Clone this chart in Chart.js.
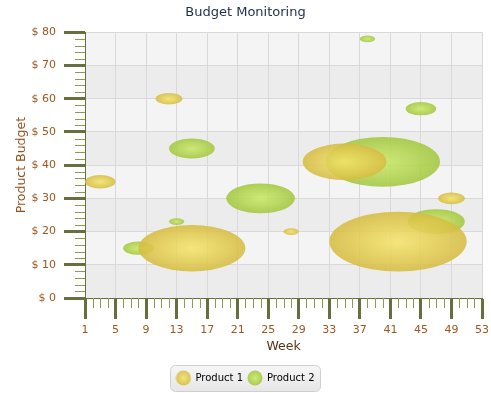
<!DOCTYPE html>
<html>
<head>
<meta charset="utf-8">
<title>Budget Monitoring</title>
<script src="https://cdn.jsdelivr.net/npm/chart.js@4.4.1/dist/chart.umd.min.js"></script>
<style>
  html, body { margin: 0; padding: 0; background: #fff; }
  #wrap { width: 491px; height: 393px; position: relative; }
</style>
</head>
<body>
<div id="wrap"><canvas id="budgetChart"></canvas></div>
<script>
/* ---- data ---- */
const weekTicks   = [1, 5, 9, 13, 17, 21, 25, 29, 33, 37, 41, 45, 49, 53];
const budgetTicks = [0, 10, 20, 30, 40, 50, 60, 70, 80];

// bubble size is a diameter in axis units
const p1Week   = [3, 12, 15, 28, 35, 42, 49];
const p1Budget = [35, 60, 15, 20, 41, 17, 30];
const p1Size   = [4, 3.5, 14, 2, 11, 18, 3.5];

const p2Week   = [8, 13, 15, 24, 38, 40, 45, 47];
const p2Budget = [15, 23, 45, 30, 78, 41, 57, 23];
const p2Size   = [4, 2, 6, 9, 2, 15, 4, 7.5];

/* ---- styling ---- */
Chart.defaults.font.family = "'DejaVu Sans', Verdana, sans-serif";
Chart.defaults.animation = false;

const AXIS_DARK  = '#66703f';
const AXIS_MINOR = '#8c9a52';
const LABEL_CLR  = '#a0561c';
const GRID_CLR   = '#d9d9d9';

const SHADES = {
  p1: { inner: 'rgba(244,228,106,0.88)', outer: 'rgba(214,188,66,0.88)' },
  p2: { inner: 'rgba(200,232,98,0.85)', outer: 'rgba(160,198,58,0.85)' },
};

function toPoints(xs, ys, sizes){
  return xs.map((x, i) => ({ x, y: ys[i], r: sizes[i] }));
}

function fillEllipse(ctx, cx, cy, rx, ry, shade){
  ctx.save();
  ctx.translate(cx, cy);
  ctx.scale(rx, ry);
  const g = ctx.createRadialGradient(0, 0, 0, 0, 0, 1);
  g.addColorStop(0, shade.inner);
  g.addColorStop(1, shade.outer);
  ctx.beginPath();
  ctx.arc(0, 0, 1, 0, Math.PI * 2);
  ctx.fillStyle = g;
  ctx.fill();
  ctx.restore();
}

function legendDot(shade){
  const c = document.createElement('canvas');
  c.width = 16; c.height = 16;
  fillEllipse(c.getContext('2d'), 8, 8, 7.5, 7.5, shade);
  return c;
}

/* alternating horizontal bands behind the grid */
const plotBands = {
  id: 'plotBands',
  beforeDraw(chart){
    const { ctx, chartArea: a, scales: { y } } = chart;
    ctx.save();
    for (let i = 0; i < budgetTicks.length - 1; i++){
      const top = y.getPixelForValue(budgetTicks[i + 1]);
      const bot = y.getPixelForValue(budgetTicks[i]);
      ctx.fillStyle = i % 2 === 0 ? '#ececec' : '#f4f4f4';
      ctx.fillRect(a.left, top, a.right - a.left, bot - top);
    }
    ctx.restore();
  }
};

/* bubbles are circles in data units, so they come out as ellipses */
const ellipseBubbles = {
  id: 'ellipseBubbles',
  beforeDatasetDraw(chart, args){
    const { ctx, chartArea: a, scales: { x, y } } = chart;
    const ds = chart.data.datasets[args.index];
    ctx.save();
    ctx.beginPath();
    ctx.rect(a.left, a.top, a.right - a.left, a.bottom - a.top);
    ctx.clip();
    args.meta.data.forEach((pt, i) => {
      const d = ds.data[i];
      const rx = Math.abs(x.getPixelForValue(d.x + d.r / 2) - pt.x);
      const ry = Math.abs(y.getPixelForValue(d.y + d.r / 2) - pt.y);
      fillEllipse(ctx, pt.x, pt.y, rx, ry, ds.shade);
    });
    ctx.restore();
    return false;
  }
};

/* minor tick marks between the major ones */
const minorTicks = {
  id: 'minorTicks',
  afterDraw(chart){
    const { ctx, scales: { x, y } } = chart;
    ctx.save();
    ctx.strokeStyle = AXIS_MINOR;
    ctx.lineWidth = 1;
    ctx.beginPath();
    for (let v = y.min; v <= y.max; v += 2){
      if (budgetTicks.includes(v)) continue;
      const py = Math.round(y.getPixelForValue(v)) + 0.5;
      ctx.moveTo(y.right - 10, py); ctx.lineTo(y.right, py);
    }
    for (let v = x.min; v <= x.max; v += 1){
      if (weekTicks.includes(v)) continue;
      const px = Math.round(x.getPixelForValue(v)) + 0.5;
      ctx.moveTo(px, x.top); ctx.lineTo(px, x.top + 10);
    }
    ctx.stroke();
    ctx.restore();
  }
};

/* rounded grey frame behind the legend */
const legendFrame = {
  id: 'legendFrame',
  beforeDraw(chart){
    const lg = chart.legend;
    if (!lg || !lg.legendHitBoxes || !lg.legendHitBoxes.length) return;
    const hb = lg.legendHitBoxes;
    const l = Math.min(...hb.map(h => h.left)) - 6;
    const r = Math.max(...hb.map(h => h.left + h.width)) + 6;
    const t = lg.top - 2.5, b = lg.bottom - 1.5;
    const ctx = chart.ctx;
    ctx.save();
    const g = ctx.createLinearGradient(0, t, 0, b);
    g.addColorStop(0, '#f6f6f6');
    g.addColorStop(1, '#e6e6e6');
    ctx.beginPath();
    ctx.roundRect(Math.round(l) + 0.5, t, Math.round(r - l), b - t, 5);
    ctx.fillStyle = g;
    ctx.fill();
    ctx.strokeStyle = '#cfcfcf';
    ctx.lineWidth = 1;
    ctx.stroke();
    ctx.restore();
  }
};

new Chart(document.getElementById('budgetChart'), {
  type: 'bubble',
  data: {
    datasets: [
      { label: 'Product 1', data: toPoints(p1Week, p1Budget, p1Size), shade: SHADES.p1,
        backgroundColor: SHADES.p1.outer },
      { label: 'Product 2', data: toPoints(p2Week, p2Budget, p2Size), shade: SHADES.p2,
        backgroundColor: SHADES.p2.outer },
    ],
  },
  options: {
    responsive: true,
    maintainAspectRatio: false,
    layout: { autoPadding: false, padding: { left: 0, right: 0, top: 0, bottom: 0 } },
    plugins: {
      title: {
        display: true, text: 'Budget Monitoring', color: '#1f2d4d',
        font: { size: 13, weight: 'normal' }, padding: { top: 5, bottom: 11.7 },
      },
      legend: {
        position: 'bottom',
        labels: {
          usePointStyle: true, pointStyleWidth: 14, padding: 5,
          color: '#1e2a44', font: { size: 10 },
          generateLabels: chart => chart.data.datasets.map((ds, i) => ({
            text: ds.label, pointStyle: legendDot(ds.shade),
            fillStyle: ds.shade.outer, strokeStyle: 'transparent', lineWidth: 0,
            hidden: false, datasetIndex: i,
          })),
        },
      },
      tooltip: { enabled: false },
    },
    scales: {
      x: {
        type: 'linear', min: 1, max: 53,
        afterBuildTicks: s => { s.ticks = weekTicks.map(v => ({ value: v })); },
        afterFit: s => { s.height = 70; s.paddingLeft = 0; s.paddingRight = 9; },
        grid: { color: GRID_CLR, lineWidth: 1, tickLength: 21, tickWidth: 3, tickColor: AXIS_DARK },
        border: { color: AXIS_DARK, width: 1 },
        ticks: { color: LABEL_CLR, font: { size: 11 }, padding: 5, maxRotation: 0, autoSkip: false },
        title: {
          display: true, text: 'Week', color: '#5a3418',
          font: { size: 12.5 }, padding: { top: 0, bottom: 14 },
        },
      },
      y: {
        min: 0, max: 80,
        afterBuildTicks: s => { s.ticks = budgetTicks.map(v => ({ value: v })); },
        afterFit: s => { s.width = 85; s.paddingTop = 0; s.paddingBottom = 0; },
        grid: { color: GRID_CLR, lineWidth: 1, tickLength: 21, tickWidth: 3, tickColor: AXIS_DARK },
        border: { color: AXIS_DARK, width: 1 },
        ticks: { color: LABEL_CLR, font: { size: 11 }, padding: 8, callback: v => '$ ' + v },
        title: {
          display: true, text: 'Product Budget', color: '#94501c',
          font: { size: 12.5 }, padding: { top: 14.5, bottom: 0 },
        },
      },
    },
  },
  plugins: [plotBands, ellipseBubbles, minorTicks, legendFrame],
});
</script>
</body>
</html>
